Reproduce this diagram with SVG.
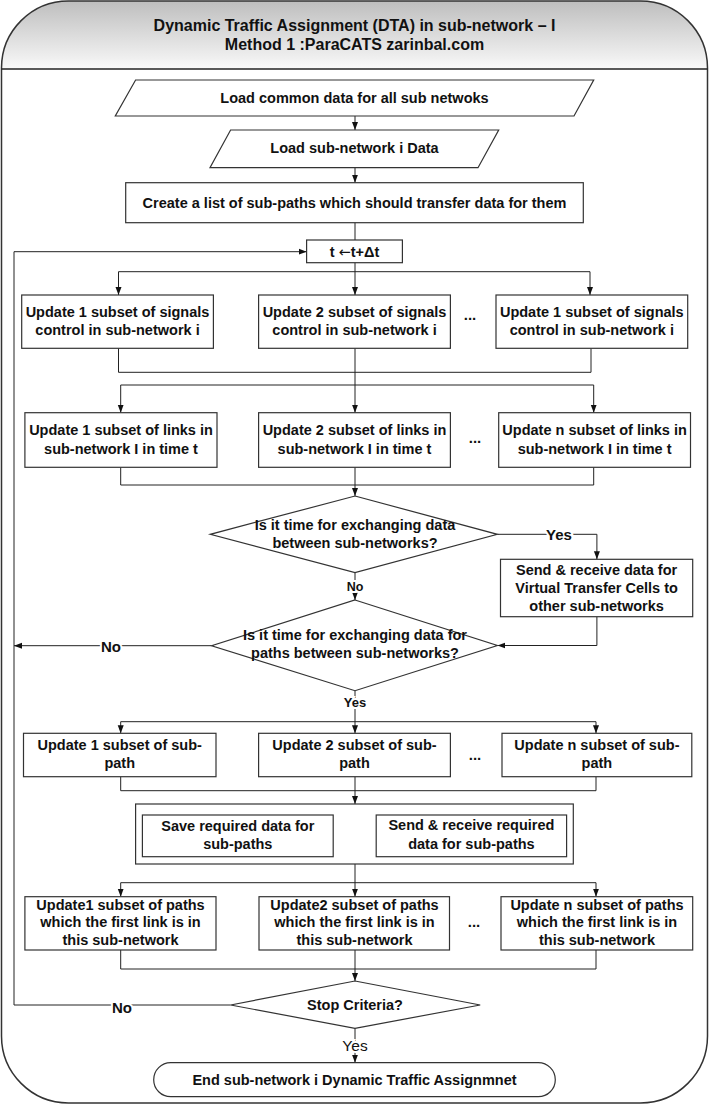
<svg xmlns="http://www.w3.org/2000/svg" width="709" height="1105" viewBox="0 0 709 1105">
<defs>
<linearGradient id="hdr" x1="0" y1="0" x2="0" y2="1">
<stop offset="0" stop-color="#bdbdbd"/>
<stop offset="1" stop-color="#f9f9f9"/>
</linearGradient>
<clipPath id="frameClip"><rect x="1.5" y="1" width="706" height="1102" rx="67" ry="67"/></clipPath>
<marker id="arr" markerWidth="8" markerHeight="8" viewBox="0 0 8 8" refX="8" refY="4" orient="auto" markerUnits="userSpaceOnUse">
<path d="M0,1 L8,4 L0,7 Z" fill="#111"/>
</marker>
</defs>
<style>
.box{fill:#fff;stroke:#333;stroke-width:1.2}
.t{font-family:"Liberation Sans",Arial,sans-serif;font-weight:bold;font-size:14.5px;fill:#111;text-anchor:middle;dominant-baseline:central}
.ttl{font-size:16px}
.c{fill:none;stroke:#222;stroke-width:1}
.a{marker-end:url(#arr)}
.lbl{font-family:"Liberation Sans",Arial,sans-serif;font-weight:bold;font-size:13px;fill:#111;text-anchor:middle;dominant-baseline:central;stroke:#fff;stroke-width:4;paint-order:stroke}
.big{font-size:15px}
.sm{font-size:12.5px}
.reg{font-weight:normal;font-size:15.5px}
.dots{font-family:"Liberation Sans",Arial,sans-serif;font-weight:bold;font-size:15px;fill:#111;text-anchor:middle}
.sym{font-family:"DejaVu Sans",sans-serif;font-weight:normal}
</style>

<g id="frame">
<rect x="1.5" y="1" width="706" height="1102" rx="67" ry="67" fill="#fff"/>
<rect x="0" y="0" width="709" height="69" fill="url(#hdr)" clip-path="url(#frameClip)"/>
<rect x="1.5" y="1" width="706" height="1102" rx="67" ry="67" fill="none" stroke="#333" stroke-width="1.5"/>
<line x1="1.5" y1="69" x2="707.5" y2="69" stroke="#222" stroke-width="1.5"/>
<text class="t ttl" x="354.5" y="25">Dynamic Traffic Assignment (DTA) in sub-network – I</text>
<text class="t ttl" x="354.5" y="44">Method 1 :ParaCATS zarinbal.com</text>
</g>

<g id="connectors">
<path class="c a" d="M355 116 V130"/>
<path class="c a" d="M355 167.7 V182.7"/>
<path class="c" d="M355 222.7 V240"/>
<path class="c a" d="M355 262.7 V295"/>
<path class="c a" d="M355 271.7 H118.5 V295"/>
<path class="c a" d="M355 271.7 H590 V295"/>
<path class="c" d="M118.5 348.3 V372.3 H591 V348.3"/>
<path class="c a" d="M355 348.3 V412.7"/>
<path class="c a" d="M355 385 H120.7 V412.7"/>
<path class="c a" d="M355 385 H593.7 V412.7"/>
<path class="c" d="M120.7 467.3 V485 H593.7 V467.3"/>
<path class="c a" d="M355 467.3 V496"/>
<path class="c a" d="M497.4 534.3 H596.9 V559.3"/>
<path class="c a" d="M355 572.7 V600"/>
<path class="c a" d="M596.9 616.7 V645.5 H497.4"/>
<path class="c a" d="M211.6 645.7 H14"/>
<path class="c a" d="M355 690.7 V733.3"/>
<path class="c a" d="M355 721.7 H120.7 V733.3"/>
<path class="c a" d="M355 721.7 H596 V733.3"/>
<path class="c" d="M120.7 776.7 V790.7 H596 V776.7"/>
<path class="c a" d="M355 776.7 V804"/>
<path class="c a" d="M355 864 V896.7"/>
<path class="c a" d="M355 882.7 H120.7 V896.7"/>
<path class="c a" d="M355 882.7 H596 V896.7"/>
<path class="c" d="M120.7 950 V969 H596 V950"/>
<path class="c a" d="M355 950 V981"/>
<path class="c a" d="M230.6 1005 H14 V251.7 H306.6"/>
<path class="c a" d="M355 1028.3 V1062.7"/>
<text class="lbl big" x="559" y="534">Yes</text>
<text class="lbl sm" x="355" y="587">No</text>
<text class="lbl big" x="111" y="646">No</text>
<text class="lbl" x="355" y="702">Yes</text>
<text class="lbl big" x="122" y="1007">No</text>
<text class="lbl reg" x="355" y="1045">Yes</text>
</g>

<g id="load-common">
<polygon class="box" points="135.6,80 593.7,80 574,116 115.3,116"/>
<text class="t" x="354.5" y="98">Load common data for all sub netwoks</text>
</g>
<g id="load-sub">
<polygon class="box" points="230.6,130 498.7,130 478,167.7 210,167.7"/>
<text class="t" x="354.5" y="148">Load sub-network i Data</text>
</g>
<g id="create-list">
<rect class="box" x="125.7" y="182.7" width="457.6" height="40"/>
<text class="t" x="354.5" y="202.5">Create a list of sub-paths which should transfer data for them</text>
</g>
<g id="t-update">
<rect class="box" x="306.6" y="240" width="95.8" height="22.7"/>
<text class="t" x="354.5" y="251.5">t <tspan class="sym">←</tspan>t+Δt</text>
</g>

<g id="signals-1">
<rect class="box" x="21.7" y="295" width="191.7" height="53.3"/>
<text class="t" x="117.5" y="312">Update 1 subset of signals</text>
<text class="t" x="117.5" y="330">control in sub-network i</text>
</g>
<g id="signals-2">
<rect class="box" x="258.6" y="295" width="191.8" height="53.3"/>
<text class="t" x="354.5" y="312">Update 2 subset of signals</text>
<text class="t" x="354.5" y="330">control in sub-network i</text>
</g>
<text class="dots" x="470" y="320">...</text>
<g id="signals-n">
<rect class="box" x="496" y="295" width="191.7" height="53.3"/>
<text class="t" x="591.8" y="312">Update 1 subset of signals</text>
<text class="t" x="591.8" y="330">control in sub-network i</text>
</g>

<g id="links-1">
<rect class="box" x="24.9" y="412.7" width="192.1" height="54.6"/>
<text class="t" x="121" y="430">Update 1 subset of links in</text>
<text class="t" x="121" y="448.5">sub-network I in time t</text>
</g>
<g id="links-2">
<rect class="box" x="258.6" y="412.7" width="191.8" height="54.6"/>
<text class="t" x="354.5" y="430">Update 2 subset of links in</text>
<text class="t" x="354.5" y="448.5">sub-network I in time t</text>
</g>
<text class="dots" x="475" y="443">...</text>
<g id="links-n">
<rect class="box" x="498.7" y="412.7" width="191.8" height="54.6"/>
<text class="t" x="594.6" y="430">Update n subset of links in</text>
<text class="t" x="594.6" y="448.5">sub-network I in time t</text>
</g>

<g id="decision-exchange">
<polygon class="box" points="355,496 497.4,534.3 355,572.7 210.3,534.3"/>
<text class="t" x="355" y="524.5">Is it time for exchanging data</text>
<text class="t" x="355" y="543">between sub-networks?</text>
</g>
<g id="send-vtc">
<rect class="box" x="500.5" y="559.3" width="192.2" height="57.4"/>
<text class="t" x="596.6" y="570">Send &amp; receive data for</text>
<text class="t" x="596.6" y="588.3">Virtual Transfer Cells to</text>
<text class="t" x="596.6" y="606">other sub-networks</text>
</g>
<g id="decision-paths">
<polygon class="box" points="355,600 497.4,645.5 355,690.7 211.6,645.7"/>
<text class="t" x="355" y="635">Is it time for exchanging data for</text>
<text class="t" x="355" y="653.3">paths between sub-networks?</text>
</g>

<g id="subpath-1">
<rect class="box" x="23.5" y="733.3" width="192.5" height="43.4"/>
<text class="t" x="119.7" y="745">Update 1 subset of sub-</text>
<text class="t" x="119.7" y="763">path</text>
</g>
<g id="subpath-2">
<rect class="box" x="258.6" y="733.3" width="191.8" height="43.4"/>
<text class="t" x="354.5" y="745">Update 2 subset of sub-</text>
<text class="t" x="354.5" y="763">path</text>
</g>
<text class="dots" x="475" y="760">...</text>
<g id="subpath-n">
<rect class="box" x="502" y="733.3" width="189.8" height="43.4"/>
<text class="t" x="596.9" y="745">Update n subset of sub-</text>
<text class="t" x="596.9" y="763">path</text>
</g>

<g id="save-send">
<rect class="box" x="135.6" y="804" width="437.7" height="60"/>
<rect class="box" x="142.4" y="815" width="190.8" height="41.7"/>
<text class="t" x="237.8" y="826">Save required data for</text>
<text class="t" x="237.8" y="844.3">sub-paths</text>
<rect class="box" x="376.2" y="815" width="190.4" height="41.7"/>
<text class="t" x="471.4" y="825">Send &amp; receive required</text>
<text class="t" x="471.4" y="844">data for sub-paths</text>
</g>

<g id="paths-1">
<rect class="box" x="24.9" y="896.7" width="191.1" height="53.3"/>
<text class="t" x="120.5" y="904.5">Update1  subset of paths</text>
<text class="t" x="120.5" y="922">which the first link is in</text>
<text class="t" x="120.5" y="940">this sub-network</text>
</g>
<g id="paths-2">
<rect class="box" x="259" y="896.7" width="190.5" height="53.3"/>
<text class="t" x="354.5" y="904.5">Update2 subset of paths</text>
<text class="t" x="354.5" y="922">which the first link is in</text>
<text class="t" x="354.5" y="940">this sub-network</text>
</g>
<text class="dots" x="474" y="927">...</text>
<g id="paths-n">
<rect class="box" x="501" y="896.7" width="191.7" height="53.3"/>
<text class="t" x="597" y="904.5">Update n subset of paths</text>
<text class="t" x="597" y="922">which the first link is in</text>
<text class="t" x="597" y="940">this sub-network</text>
</g>

<g id="decision-stop">
<polygon class="box" points="355,981 480.2,1005 355,1028.3 230.6,1005"/>
<text class="t" x="355" y="1005">Stop Criteria?</text>
</g>
<g id="end">
<rect class="box" x="153.7" y="1062.7" width="401.6" height="34" rx="17" ry="17"/>
<text class="t" x="354.5" y="1080">End sub-network i Dynamic Traffic Assignmnet</text>
</g>
</svg>
